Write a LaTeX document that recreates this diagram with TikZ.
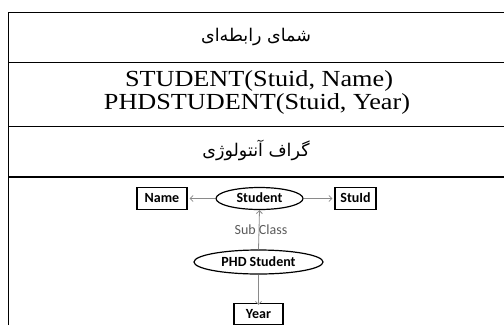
\documentclass[tikz,border=0pt]{standalone}
\usepackage{fontspec}
\setmainfont{Liberation Serif}
\newfontfamily\arabicfont[Script=Arabic]{DejaVu Sans}
\newfontfamily\calfont{Carlito}
\TeXXeTstate=1
\usetikzlibrary{shapes.geometric,arrows.meta}
\definecolor{arrgray}{HTML}{8A8A8A}
\definecolor{labgray}{HTML}{5A5A5A}
\tikzset{
  tabline/.style={line width=1.4bp, black},
  fatext/.style={font=\arabicfont\fontsize{17.5bp}{20bp}\selectfont},
  entext/.style={font=\fontsize{23bp}{23bp}\selectfont, anchor=base},
  boxnode/.style={draw, line width=1.2bp, inner sep=0pt, text height=9.5bp, text depth=1.5bp, font=\calfont\bfseries\fontsize{14bp}{14bp}\selectfont},
  ellnode/.style={draw, ellipse, line width=1.2bp, inner sep=0pt, text height=9.5bp, text depth=1.5bp, font=\calfont\bfseries\fontsize{14bp}{14bp}\selectfont},
  conn/.style={draw=arrgray, line width=0.8bp, -{Straight Barb[length=3bp,width=6bp]}},
  sublab/.style={text=labgray, font=\calfont\fontsize{14bp}{14bp}\selectfont},
}
\begin{document}
\begin{tikzpicture}[x=1bp,y=-1bp]
\useasboundingbox (0,0) rectangle (504,325);
% table lines
\coordinate (tl) at (8.5,12.5);
\coordinate (bl) at (8.5,325);
\coordinate (r1) at (504,12.5);
\coordinate (l2) at (8.5,62.5);
\coordinate (r2) at (504,62.5);
\coordinate (l3) at (8.5,126.5);
\coordinate (r3) at (504,126.5);
\coordinate (l4) at (8.5,177);
\coordinate (r4) at (504,177);
\draw[tabline] (bl) -- (tl) -- (r1);
\draw[tabline] (l2) -- (r2);
\draw[tabline] (l3) -- (r3);
\draw[tabline] (l4) -- (r4);
% texts
\node[fatext] (t1) at (256,37) {\beginR شمای رابطه‌ای\endR};
\node[entext] (t2) at (259,86) {\scalebox{1.14}[1]{STUDENT(Stuid, Name)}};
\node[entext] (t3) at (257,109) {\scalebox{1.14}[1]{PHDSTUDENT(Stuid, Year)}};
\node[fatext] (t4) at (256,150) {\beginR گراف آنتولوژی\endR};
% diagram
\node[boxnode, minimum width=50bp, minimum height=22bp] (name) at (162,198.5) {Name};
\node[ellnode, minimum width=87bp, minimum height=22bp] (stud) at (259.5,198.5) {Student};
\node[boxnode, minimum width=41bp, minimum height=22bp] (stuid) at (355.5,198.5) {StuId};
\node[ellnode, minimum width=129bp, minimum height=24bp] (phd) at (258.5,262) {PHD Student};
\node[boxnode, minimum width=49bp, minimum height=21bp] (year) at (258.5,314) {Year};
\draw[conn] (stud.west) -- ([xshift=2bp]name.east);
\draw[conn] (stud.east) -- ([xshift=-2bp]stuid.west);
\draw[conn] (phd.north) -- (stud.south) node[midway, sublab, xshift=2bp] (sc) {Sub Class};
\draw[conn] (phd.south) -- ([yshift=-2bp]year.north);
\end{tikzpicture}
\end{document}
